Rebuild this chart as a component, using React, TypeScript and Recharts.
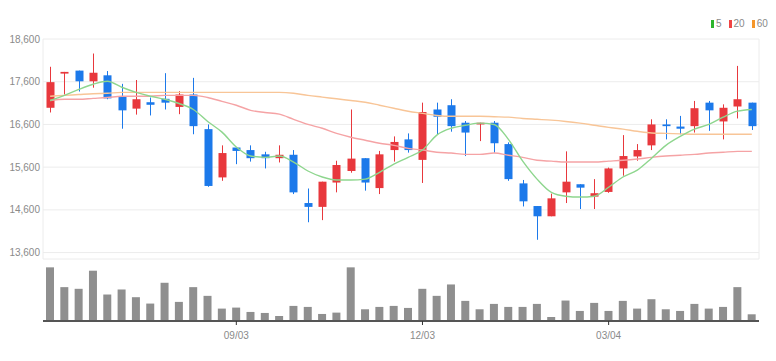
import React from 'react';
import { ComposedChart, BarChart, Bar, Line, XAxis, YAxis, CartesianGrid } from 'recharts';

const dates = [
  '06/04', '06/11', '06/18', '06/25', '07/02', '07/09', '07/16', '07/23', '07/30', '08/06',
  '08/13', '08/20', '08/27', '09/03', '09/10', '09/17', '09/24', '10/01', '10/08', '10/15',
  '10/22', '10/29', '11/05', '11/12', '11/19', '11/26', '12/03', '12/10', '12/17', '12/24',
  '12/31', '01/07', '01/14', '01/21', '01/28', '02/04', '02/11', '02/18', '02/25', '03/04',
  '03/11', '03/18', '03/25', '04/01', '04/08', '04/15', '04/22', '04/29', '05/06', '05/13',
];

const opens = [
  16990, 17790, 17860, 17610, 17750, 17260, 16970, 17120, 17200, 17010,
  17300, 16490, 15360, 16060, 16000, 15900, 15810, 15890, 14760, 14670,
  15240, 15510, 15810, 15110, 16000, 16250, 15770, 16950, 17050, 16640,
  16600, 16640, 16140, 15220, 14690, 14450, 15010, 15200, 14910, 15020,
  15570, 15850, 16110, 16600, 16550, 16560, 17110, 16670, 17020, 17110,
];
const highs = [
  17950, 17830, 17860, 18260, 17850, 17550, 17640, 17230, 17800, 17380,
  17690, 16600, 16110, 16060, 16110, 15960, 16110, 16000, 15100, 15260,
  15750, 16950, 15810, 15980, 16320, 16390, 17110, 17110, 17190, 16680,
  16640, 16680, 16180, 15300, 14690, 14980, 15970, 15200, 15320, 15590,
  16350, 16140, 16720, 16720, 16800, 17150, 17150, 17070, 17970, 17110,
];
const lows = [
  16880, 17300, 17370, 17460, 17190, 16500, 16830, 16810, 16950, 16840,
  16370, 15140, 15280, 15670, 15730, 15570, 15710, 14970, 14310, 14360,
  15010, 15470, 15050, 14970, 15730, 15940, 15230, 16370, 16430, 15860,
  16210, 15940, 15280, 14680, 13900, 14450, 14760, 14620, 14620, 15000,
  15400, 15750, 16000, 16250, 16370, 16410, 16450, 16250, 16740, 16470,
];
const closes = [
  17590, 17830, 17610, 17810, 17210, 16930, 17190, 17060, 17110, 17300,
  16560, 15160, 15930, 15980, 15810, 15810, 15890, 15010, 14670, 15260,
  15650, 15800, 15240, 15900, 16190, 16000, 16890, 16780, 16560, 16410,
  16640, 16160, 15320, 14800, 14450, 14870, 15260, 15120, 14990, 15570,
  15860, 16000, 16600, 16560, 16500, 16980, 16930, 16990, 17190, 16560,
];

const ma5 = [
  17160, 17280, 17420, 17540, 17610, 17470, 17350, 17260, 17190, 17090,
  16950, 16670, 16420, 16070, 15860, 15830, 15860, 15720, 15510, 15370,
  15300, 15300, 15320, 15480, 15670, 15830, 16000, 16350, 16510, 16580,
  16630, 16600, 16250, 15740, 15320, 15010, 14920, 14900, 14920, 15130,
  15370, 15530, 15810, 16110, 16320, 16490, 16600, 16770, 16910, 16950,
];
const ma20 = [
  17160, 17190, 17190, 17210, 17230, 17260, 17260, 17260, 17280, 17280,
  17280, 17230, 17140, 17050, 16930, 16880, 16840, 16720, 16600, 16510,
  16390, 16300, 16230, 16160, 16110, 16040, 16000, 15950, 15930, 15900,
  15900, 15930, 15880, 15830, 15760, 15740, 15720, 15720, 15720, 15740,
  15760, 15790, 15830, 15860, 15880, 15900, 15930, 15950, 15970, 15970,
];
const ma60 = [
  17260, 17280, 17300, 17320, 17330, 17350, 17350, 17350, 17350, 17350,
  17350, 17350, 17350, 17350, 17350, 17350, 17350, 17330, 17280, 17240,
  17200, 17160, 17120, 17050, 16980, 16910, 16860, 16810, 16790, 16790,
  16790, 16780, 16770, 16740, 16720, 16700, 16670, 16630, 16580, 16530,
  16490, 16440, 16400, 16390, 16380, 16370, 16370, 16370, 16370, 16370,
];

const volumes = [
  160, 101, 96, 150, 79, 94, 71, 52, 114, 57,
  101, 75, 37, 40, 27, 24, 15, 45, 42, 21,
  25, 160, 35, 42, 45, 39, 96, 75, 109, 60,
  35, 51, 42, 42, 51, 12, 61, 30, 54, 30,
  60, 37, 65, 35, 30, 51, 37, 42, 101, 20,
];

const priceTicks = [13600, 14600, 15600, 16600, 17600, 18600];
const dateTicks = ['09/03', '12/03', '03/04'];
const legendLabels = ['5', '20', '60'];
const legendColors = ['#2db52d', '#f04444', '#f5962a'];

const RED = '#e8383d';
const BLUE = '#1c79ea';
const FONT = '"Liberation Sans Narrow", "Liberation Sans", sans-serif';

const data = dates.map((d, i) => ({
  date: d,
  open: opens[i],
  high: highs[i],
  low: lows[i],
  close: closes[i],
  range: [lows[i], highs[i]],
  ma5: ma5[i],
  ma20: ma20[i],
  ma60: ma60[i],
  volume: volumes[i],
}));

const Candle = (props: any) => {
  const { x, y, width, height, payload } = props;
  if (!payload) return null;
  const { open, close, high, low } = payload;
  const top = Math.min(y, y + height);
  const h = Math.abs(height);
  const r = high - low > 0 ? h / (high - low) : 0;
  const yO = top + (high - open) * r;
  const yC = top + (high - close) * r;
  const up = close >= open;
  const color = up ? RED : BLUE;
  const cx = Math.round(x + width / 2) + 0.5;
  const bodyTop = Math.min(yO, yC);
  const bodyH = Math.max(Math.abs(yO - yC), 1.5);
  return (
    <g>
      <line x1={cx} x2={cx} y1={top} y2={top + h} stroke={color} strokeWidth={1} />
      <rect x={cx - 4} y={bodyTop} width={8} height={bodyH} fill={color} />
    </g>
  );
};

export default function App() {
  return (
    <div style={{ position: 'fixed', left: 0, top: 0, width: 776, height: 361, background: '#fff' }}>
      <div style={{ position: 'absolute', left: 0, top: 0 }}>
        <ComposedChart width={776} height={262} data={data} margin={{ top: 39, right: 17, bottom: 3, left: 0 }}>
          <CartesianGrid stroke="#ececec" strokeWidth={1} />
          <XAxis
            dataKey="date"
            ticks={dateTicks}
            interval={0}
            tick={false}
            tickLine={false}
            height={0}
            axisLine={{ stroke: '#333', strokeWidth: 2 }}
          />
          <YAxis
            domain={[13450, 18600]}
            ticks={priceTicks}
            width={43}
            axisLine={false}
            tickLine={false}
            tickSize={0}
            tickMargin={3}
            allowDataOverflow
            tickFormatter={(v: number) => v.toLocaleString('en-US')}
            tick={{ fill: '#8a8a8a', fontSize: 10, fontFamily: FONT }}
          />
          <Line type="monotone" dataKey="ma60" stroke="#f8c597" strokeWidth={1.4} dot={false} isAnimationActive={false} />
          <Line type="monotone" dataKey="ma20" stroke="#f5a3a5" strokeWidth={1.4} dot={false} isAnimationActive={false} />
          <Line type="monotone" dataKey="ma5" stroke="#8ed68e" strokeWidth={1.4} dot={false} isAnimationActive={false} />
          <Bar dataKey="range" barSize={8} shape={Candle} isAnimationActive={false} />
        </ComposedChart>
      </div>
      <div style={{ position: 'absolute', left: 0, top: 262 }}>
        <BarChart width={776} height={99} data={data} margin={{ top: 2, right: 17, bottom: 0, left: 43 }}>
          <XAxis
            dataKey="date"
            ticks={dateTicks}
            interval={0}
            height={40}
            axisLine={{ stroke: '#555', strokeWidth: 2 }}
            tickLine={{ stroke: '#333' }}
            tickSize={4}
            tickMargin={7}
            tick={{ fill: '#8a8a8a', fontSize: 10, fontFamily: FONT }}
          />
          <YAxis hide domain={[0, 170]} />
          <Bar dataKey="volume" fill="#8f8f8f" barSize={8} isAnimationActive={false} />
        </BarChart>
      </div>
      <div
        style={{
          position: 'absolute',
          left: 711,
          top: 19,
          display: 'flex',
          alignItems: 'center',
          fontFamily: FONT,
          fontSize: 10,
          color: '#8a8a8a',
          lineHeight: '10px',
        }}
      >
        {legendLabels.map((l, i) => (
          <span key={l} style={{ display: 'flex', alignItems: 'center', marginRight: 7 }}>
            <span style={{ display: 'inline-block', width: 3, height: 8, background: legendColors[i], marginRight: 2 }} />
            <span>{l}</span>
          </span>
        ))}
      </div>
    </div>
  );
}
